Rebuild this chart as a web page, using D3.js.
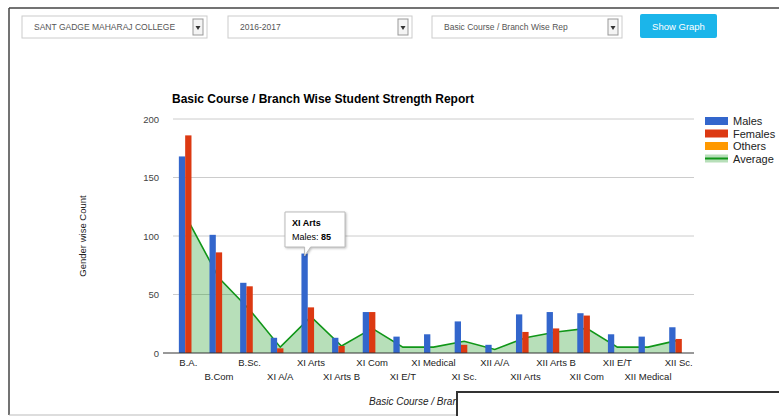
<!DOCTYPE html>
<html>
<head>
<meta charset="utf-8">
<script src="https://cdn.jsdelivr.net/npm/d3@7"></script>
<style>
  body { margin: 0; background: #fff; font-family: Arial, "Liberation Sans", sans-serif; }
</style>
</head>
<body>
<div id="chart"></div>
<script>
// data
const categories = ["B.A.", "B.Com", "B.Sc.", "XI A/A", "XI Arts", "XI Arts B", "XI Com", "XI E/T", "XI Medical",
  "XI Sc.", "XII A/A", "XII Arts", "XII Arts B", "XII Com", "XII E/T", "XII Medical", "XII Sc."];
const males   = [168, 101, 60, 13, 85, 13, 35, 14, 16, 27, 7, 33, 35, 34, 16, 14, 22];
const females = [186, 86, 57, 4, 39, 6, 35, 0, 0, 7, 0, 18, 21, 32, 0, 0, 12];
const others  = [0, 0, 0, 0, 0, 0, 0, 0, 0, 0, 0, 0, 0, 0, 0, 0, 0];
const average = [113, 64, 37, 5, 31, 6, 21, 5, 5, 10, 3, 13, 18, 21, 5, 5, 11];
const seriesNames = ["Males", "Females", "Others", "Average"];
const yTicks = [0, 50, 100, 150, 200];
const dropdowns = ["SANT GADGE MAHARAJ COLLEGE", "2016-2017", "Basic Course / Branch Wise Rep"];

const colors = ["#3366cc", "#dc3912", "#ff9900", "#109618"];
const W = 779, H = 416;
const plot = {left: 173, right: 694, top: 119, bottom: 353};

const svg = d3.select("#chart").append("svg")
    .attr("width", W)
    .attr("height", H);

// outer frame
svg.append("line").attr("x1", 9).attr("x2", W).attr("y1", 8).attr("y2", 8)
    .attr("stroke", "#444").attr("stroke-width", 1.5);
svg.append("line").attr("x1", 9).attr("x2", 9).attr("y1", 8).attr("y2", 415)
    .attr("stroke", "#444").attr("stroke-width", 1.5);
svg.append("line").attr("x1", 9).attr("x2", W).attr("y1", 415).attr("y2", 415)
    .attr("stroke", "#bbb");

// select boxes + button
const ddX = [22, 228, 432], ddW = [185, 184, 190];
const dd = svg.selectAll("g.dd")
    .data(dropdowns)
    .enter()
    .append("g")
    .attr("class", "dd")
    .attr("transform", (d, i) => "translate(" + ddX[i] + ",16)");
dd.append("rect")
    .attr("width", (d, i) => ddW[i]).attr("height", 22)
    .attr("fill", "#fff").attr("stroke", "#ccc");
dd.append("text")
    .attr("x", 12).attr("y", 14)
    .attr("font-size", "8.5px").attr("fill", "#555")
    .text(d => d);
dd.append("rect")
    .attr("x", (d, i) => ddW[i] - 14).attr("y", 3)
    .attr("width", 10).attr("height", 16)
    .attr("fill", "#f4f4f4").attr("stroke", "#999");
dd.append("path")
    .attr("d", (d, i) => "M" + (ddW[i] - 11.5) + ",10 l5,0 l-2.5,4 z")
    .attr("fill", "#333");

svg.append("rect")
    .attr("x", 640).attr("y", 14)
    .attr("width", 77).attr("height", 24)
    .attr("rx", 2)
    .attr("fill", "#1bb5ea");
svg.append("text")
    .attr("x", 678.5).attr("y", 29.5)
    .attr("text-anchor", "middle")
    .attr("font-size", "9.5px").attr("fill", "#fff")
    .text("Show Graph");

// scales
const x = d3.scaleBand().domain(categories).range([plot.left, plot.right]);
const groupW = x.bandwidth() * 0.618;
const xs = d3.scaleBand().domain([0, 1, 2]).range([0, groupW]);
const y = d3.scaleLinear().domain([0, 200]).range([plot.bottom, plot.top]);
const cx = d => x(d) + x.bandwidth() / 2;

// title
svg.append("text")
    .attr("x", 172).attr("y", 103)
    .attr("font-size", "12px").attr("font-weight", "bold")
    .attr("fill", "#000")
    .text("Basic Course / Branch Wise Student Strength Report");

// gridlines
svg.selectAll("line.grid")
    .data(yTicks.filter(t => t > 0))
    .enter()
    .append("line")
    .attr("x1", plot.left).attr("x2", plot.right)
    .attr("y1", d => y(d)).attr("y2", d => y(d))
    .attr("stroke", "#ccc");

// y axis, labels only
const yAxis = svg.append("g")
    .attr("transform", "translate(" + (plot.left - 14) + ",0)")
    .call(d3.axisLeft(y).tickValues(yTicks).tickSize(0).tickPadding(0));
yAxis.select(".domain").remove();
yAxis.selectAll("text")
    .attr("font-size", "9.5px").attr("fill", "#444")
    .attr("font-family", "Arial, 'Liberation Sans', sans-serif");

svg.append("text")
    .attr("transform", "translate(86," + ((plot.top + plot.bottom) / 2) + ") rotate(-90)")
    .attr("text-anchor", "middle")
    .attr("font-size", "9.5px").attr("fill", "#222")
    .text("Gender wise Count");

// average area + line (behind the bars)
const avgPts = categories.map((c, i) => [cx(c), average[i]]);
svg.append("path")
    .datum(avgPts)
    .attr("d", d3.area().x(d => d[0]).y0(y(0)).y1(d => y(d[1])))
    .attr("fill", colors[3])
    .attr("fill-opacity", 0.3);
svg.append("path")
    .datum(avgPts)
    .attr("d", d3.line().x(d => d[0]).y(d => y(d[1])))
    .attr("fill", "none")
    .attr("stroke", colors[3])
    .attr("stroke-width", 1.6);

// bars
const barSeries = [males, females, others];
barSeries.forEach(function(vals, s) {
    svg.append("g")
        .selectAll("rect")
        .data(categories)
        .enter()
        .append("rect")
        .attr("x", (d) => x(d) + (x.bandwidth() - groupW) / 2 + xs(s))
        .attr("width", xs.bandwidth())
        .attr("y", (d, i) => y(vals[i]))
        .attr("height", (d, i) => y(0) - y(vals[i]))
        .attr("fill", colors[s]);
});

// baseline
svg.append("line")
    .attr("x1", plot.left - 10).attr("x2", plot.right)
    .attr("y1", y(0)).attr("y2", y(0))
    .attr("stroke", "#333");

// x labels, staggered in two rows
svg.selectAll("text.xl")
    .data(categories)
    .enter()
    .append("text")
    .attr("class", "xl")
    .attr("x", d => cx(d))
    .attr("y", (d, i) => i % 2 === 0 ? 366 : 380)
    .attr("text-anchor", "middle")
    .attr("font-size", "9.5px").attr("fill", "#222")
    .text(d => d);

svg.append("text")
    .attr("x", (plot.left + plot.right) / 2).attr("y", 405)
    .attr("text-anchor", "middle")
    .attr("font-size", "10px").attr("font-style", "italic").attr("fill", "#222")
    .text("Basic Course / Branch Name");

// legend
const leg = svg.selectAll("g.leg")
    .data(seriesNames)
    .enter()
    .append("g")
    .attr("class", "leg")
    .attr("transform", (d, i) => "translate(705," + (121 + i * 12.5) + ")");
leg.filter((d, i) => i < 3).append("rect")
    .attr("x", 0).attr("y", -4)
    .attr("width", 23).attr("height", 8)
    .attr("fill", (d, i) => colors[i]);
leg.filter((d, i) => i === 3).append("rect")
    .attr("x", 0).attr("y", -4)
    .attr("width", 23).attr("height", 8)
    .attr("fill", colors[3]).attr("fill-opacity", 0.3);
leg.filter((d, i) => i === 3).append("line")
    .attr("x1", 0).attr("x2", 23).attr("y1", 0).attr("y2", 0)
    .attr("stroke", colors[3]).attr("stroke-width", 2);
leg.append("text")
    .attr("x", 28).attr("y", 4)
    .attr("font-size", "11px").attr("fill", "#222")
    .text(d => d);

// tooltip on the XI Arts males bar
const tipIdx = 4;
const tipX = x(categories[tipIdx]) + (x.bandwidth() - groupW) / 2 + xs(0) + xs.bandwidth() / 2;
const tip = svg.append("g");
tip.append("path")
    .attr("d", "M285,212 h60 v35 h-" + (345 - tipX - 6) + " l-6,9 l0,-9 h-" + (tipX - 285) + " z")
    .attr("fill", "#fff").attr("stroke", "#bbb")
    .attr("filter", "drop-shadow(1px 1px 1px rgba(0,0,0,0.25))");
tip.append("text")
    .attr("x", 292).attr("y", 226)
    .attr("font-size", "9px").attr("font-weight", "bold").attr("fill", "#000")
    .text(categories[tipIdx]);
const t2 = tip.append("text")
    .attr("x", 292).attr("y", 240)
    .attr("font-size", "9px").attr("fill", "#000");
t2.append("tspan").text(seriesNames[0] + ": ");
t2.append("tspan").attr("font-weight", "bold").text(males[tipIdx]);

// white box lying over the bottom right
svg.append("rect")
    .attr("x", 457).attr("y", 392)
    .attr("width", 340).attr("height", 40)
    .attr("fill", "#fff")
    .attr("stroke", "#333").attr("stroke-width", 2);
</script>
</body>
</html>
